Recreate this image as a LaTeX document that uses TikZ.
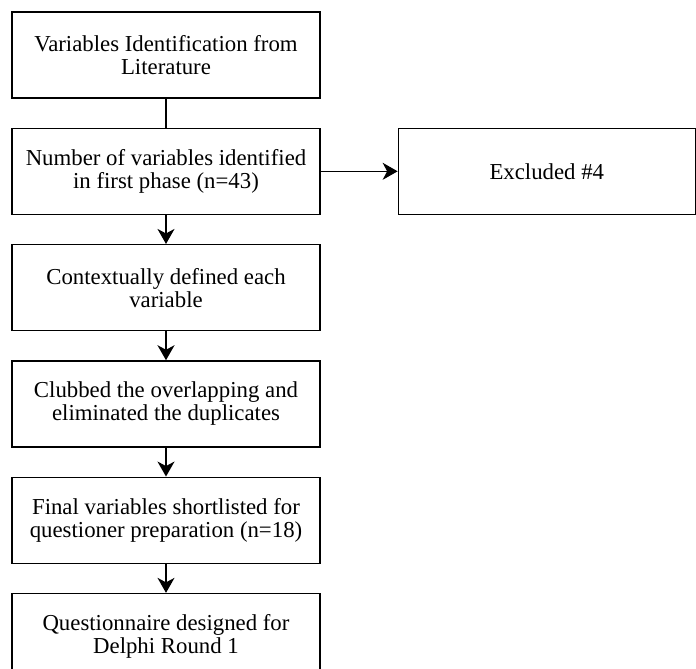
\documentclass[tikz,border=0pt]{standalone}
\usepackage{fontspec}
\setmainfont{Liberation Serif}
\usepackage{tikz}
\usetikzlibrary{positioning,arrows.meta}

\begin{document}
\begin{tikzpicture}[x=1pt,y=1pt,
  stepbox/.style={draw, line width=1.3pt, minimum width=308pt, minimum height=86pt,
    align=center, inner sep=0pt, font=\fontsize{22.8}{23}\selectfont},
  flow/.style={line width=1.4pt, -{Stealth[length=15pt,width=17pt,inset=4.5pt]}},
  node distance=29pt]
\useasboundingbox (0,0) rectangle (696,-669);

\node [stepbox] (lit) at (166,-55) {Variables Identification from\\Literature};
\node [stepbox, below=of lit] (first) {Number of variables identified\\in first phase (n=43)};
\node [stepbox, below=of first] (defined) {Contextually defined each\\variable};
\node [stepbox, below=of defined] (clubbed) {Clubbed the overlapping and\\eliminated the duplicates};
\node [stepbox, below=of clubbed] (final) {Final variables shortlisted for\\questioner preparation (n=18)};
\node [stepbox, below=of final] (quest) {Questionnaire designed for\\Delphi Round 1};

\node [stepbox, minimum width=297pt, right=77pt of first] (excl) {Excluded \#4};

\draw [line width=1.3pt] (lit) -- (first);
\draw [flow] (first) -- (defined);
\draw [flow] (defined) -- (clubbed);
\draw [flow] (clubbed) -- (final);
\draw [flow] (final) -- (quest);
\draw [flow, line width=1.3pt] (first) -- (excl);

\end{tikzpicture}
\end{document}
